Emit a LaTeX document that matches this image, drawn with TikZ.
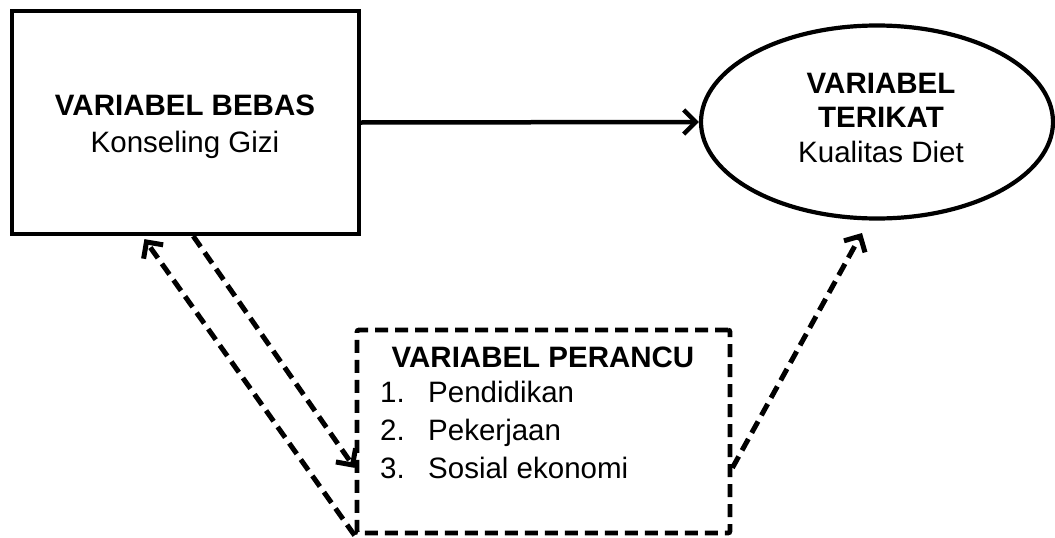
\documentclass[tikz,border=0pt]{standalone}
\usepackage{fontspec}
\setmainfont{Liberation Sans}
\usetikzlibrary{arrows.meta,shapes.geometric,calc}
\tikzset{
  txt/.style={font=\fontsize{29.5}{37}\selectfont, inner sep=0pt},
  btxt/.style={font=\fontsize{29.5}{37}\selectfont\bfseries, inner sep=0pt},
  solidbox/.style={draw=black, line width=4.2pt, minimum width=347pt, minimum height=223pt, inner sep=0pt},
  ovalbox/.style={draw=black, ellipse, line width=4.2pt, minimum width=352pt, minimum height=193pt, inner sep=0pt},
  dashbox/.style={draw=black, line width=4.8pt, dash pattern=on 13pt off 7pt, rounded corners=2pt, minimum width=373pt, minimum height=203pt, inner sep=0pt},
  tip/.style={-{Straight Barb[length=12pt,width=24pt]}},
  solidarrow/.style={tip, line width=4.5pt},
  dasharrow/.style={tip, line width=5pt, dash pattern=on 13pt off 7pt}
}
\begin{document}
\begin{tikzpicture}[x=1pt,y=-1pt]
\useasboundingbox (0,0) rectangle (1055,538);
% nodes
\node[solidbox] (bebas) at (185.5,122.5) {};
\node[btxt, anchor=base] (bebasT) at (185,115) {VARIABEL BEBAS};
\node[txt, anchor=base] (bebasS) at (185,152) {Konseling Gizi};

\node[ovalbox] (terikat) at (877,122) {};
\node[btxt, anchor=base] (terikatT1) at (881,93) {VARIABEL};
\node[btxt, anchor=base] (terikatT2) at (881,127) {TERIKAT};
\node[txt, anchor=base] (terikatS) at (881,162) {Kualitas Diet};

\node[dashbox] (perancu) at (543.5,431.5) {};
\node[btxt, anchor=base] (perancuT) at (543,367) {VARIABEL PERANCU};
\node[txt, anchor=base west] (n1) at (380,402) {1.};
\node[txt, anchor=base west] (i1) at (428,402) {Pendidikan};
\node[txt, anchor=base west] (n2) at (380,440) {2.};
\node[txt, anchor=base west] (i2) at (428,440) {Pekerjaan};
\node[txt, anchor=base west] (n3) at (380,478) {3.};
\node[txt, anchor=base west] (i3) at (428,478) {Sosial ekonomi};

% connection points
\coordinate (bA) at ($(bebas.south west)!0.522!(bebas.south east)$);
\coordinate (bB) at ($(bebas.south west)!0.383!(bebas.south east)+(0,3)$);
\coordinate (pL) at ($(perancu.south west)!0.325!(perancu.north west)$);
\coordinate (pR) at ($(perancu.south east)!0.325!(perancu.north east)$);
\coordinate (tEnd) at (862,233);

% connectors
\draw[solidarrow] (bebas.east) -- (terikat.west);
\draw[dasharrow] (bA) -- (pL);
\draw[dasharrow] (perancu.south west) -- (bB);
\draw[dasharrow] (pR) -- (tEnd);
\end{tikzpicture}
\end{document}
